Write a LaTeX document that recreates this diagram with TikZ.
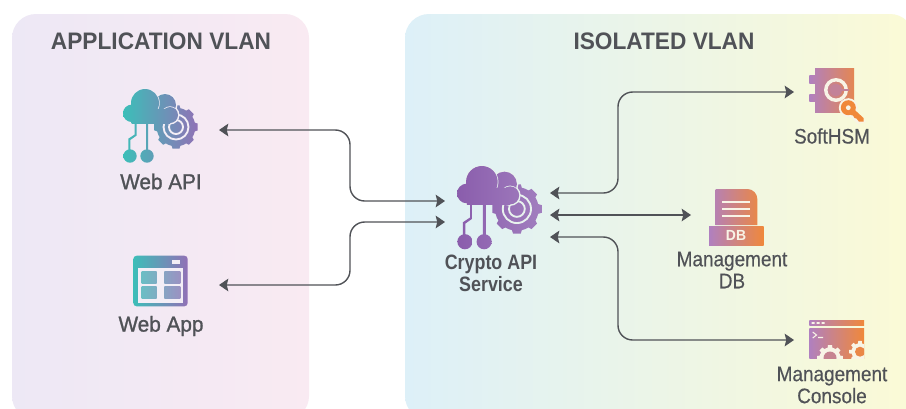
\documentclass[tikz,border=0pt]{standalone}
\usepackage{fontspec}
\setmainfont{Liberation Sans}
\newfontfamily\headf[FakeStretch=0.95]{Liberation Sans}
\newfontfamily\medf[FakeBold=1.2,FakeStretch=0.96]{Liberation Sans}
\newfontfamily\condf[FakeBold=0.4,FakeStretch=0.9]{Liberation Sans}
\newfontfamily\condb[FakeStretch=0.86]{Liberation Sans}
\usetikzlibrary{arrows.meta,calc}
\definecolor{txt}{HTML}{505257}
\definecolor{lineC}{HTML}{505257}
\definecolor{leftA}{HTML}{EDE8F5}
\definecolor{leftB}{HTML}{F9EAF2}
\definecolor{rightA}{HTML}{DDF0F8}
\definecolor{rightM}{HTML}{EDF4E8}
\definecolor{rightB}{HTML}{FBFAD6}
\definecolor{teal}{HTML}{3CBEB8}
\definecolor{purp}{HTML}{9270B6}
\definecolor{cryA}{HTML}{8A5DAC}
\definecolor{cryB}{HTML}{A27FBF}
\definecolor{softA}{HTML}{B080C0}
\definecolor{softB}{HTML}{F0883A}
\definecolor{lightA}{HTML}{F3EEF6}
\definecolor{lightB}{HTML}{E8F2EE}
\definecolor{lightC}{HTML}{F8F4E6}
\tikzset{
  panel title/.style={font=\headf\bfseries\fontsize{17.9}{19}\selectfont,text=txt,anchor=center,inner sep=0},
  lbl/.style={font=\condf\fontsize{15.8}{16.5}\selectfont,text=txt,align=center,inner sep=0},
  lblm/.style={font=\medf\fontsize{16.2}{17}\selectfont,text=txt,align=center,inner sep=0},
  lblb/.style={font=\condb\bfseries\fontsize{15.6}{16.5}\selectfont,text=txt,align=center,inner sep=0},
  anchorbox/.style={inner sep=0,outer sep=0,draw=none,fill=none},
  conn/.style={draw=lineC,line width=1.05pt,rounded corners=11pt,{Stealth[length=7pt,width=9.5pt,inset=1.2pt]}-{Stealth[length=7pt,width=9.5pt,inset=1.2pt]}},
}
\newcommand\gpiece[1]{\begin{scope}\clip #1;\shade[left color=\gA,right color=\gB] \gbox;\end{scope}}
\newcommand\gearpath[4]{({#1+#4*cos(-22.5)},{#2+#4*sin(-22.5)})
  \foreach \a in {0,45,...,315}{ -- ({#1+#4*cos(\a-13)},{#2+#4*sin(\a-13)}) -- ({#1+#3*cos(\a-9)},{#2+#3*sin(\a-9)}) -- ({#1+#3*cos(\a+9)},{#2+#3*sin(\a+9)}) -- ({#1+#4*cos(\a+13)},{#2+#4*sin(\a+13)}) -- ({#1+#4*cos(\a+22.5)},{#2+#4*sin(\a+22.5)})} -- cycle}
\newcommand\cloudicon[6]{%
\begin{scope}[shift={(#1,#2)},scale=#3]
\def\gA{#4}\def\gB{#5}\def\gbox{(0,0) rectangle (76,76)}
\gpiece{\gearpath{53}{38}{22}{19.3}}
\draw[#6,line width=1.4pt] (53,38) circle (12.5);
\draw[#6,line width=1.4pt] (53,38) circle (7);
\path[draw=#6,line width=2.2pt] (42,16) circle (11);
\path[draw=#6,line width=2.2pt] (47,26) circle (8);
\path[draw=#6,line width=2.2pt] (8.7,24) rectangle (47,33);
\gpiece{(42,16) circle (11)}
\path[draw=#6,line width=1.1pt] (22,14) circle (14);
\path[draw=#6,line width=1.1pt] (47,26) circle (8);
\gpiece{(47,26) circle (8)}
\gpiece{(22,14) circle (14)}
\gpiece{(8.7,24.3) circle (8.7)}
\gpiece{(8.7,20) rectangle (47,34)}
\gpiece{(7,67) circle (6.7)}
\gpiece{(24,67) circle (6.7)}
\gpiece{(23,32) rectangle (25,62)}
\gpiece{(11.7,32) -- (13.7,32) -- (13.7,46.5) -- (7.3,51) -- (7.3,61) -- (5.3,61) -- (5.3,49.7) -- (11.7,45.5) -- cycle}
\end{scope}}
\begin{document}
\begin{tikzpicture}[x=0.75pt,y=-0.75pt]
\clip (0,0) rectangle (906,408);
\fill[white] (0,0) rectangle (906,408);
\shade[left color=leftA,right color=leftB,rounded corners=18pt] (12,14) rectangle (309,420);
\shade[left color=rightA,middle color=rightM,right color=rightB,rounded corners=18pt] (405,14) rectangle (914,420);
\node[panel title] at (161,41.5) {APPLICATION VLAN};
\node[panel title] at (664,41.5) {ISOLATED VLAN};
\node[anchorbox,minimum width=87pt,minimum height=45pt] (webapi) at (161,130) {};
\node[anchorbox,minimum width=87pt,minimum height=45pt] (webapp) at (161,285) {};
\node[anchorbox,minimum width=78.75pt,minimum height=45pt] (crypto) at (497.5,215) {};
\node[anchorbox,minimum width=57pt,minimum height=30pt] (softhsm) at (832,92) {};
\node[anchorbox,minimum width=66pt,minimum height=30pt] (mgmtdb) at (735,215) {};
\node[anchorbox,minimum width=57pt,minimum height=30pt] (mgmtcon) at (832,340) {};
\coordinate (busL) at (350,165);
\coordinate (busR) at (618,215);
\coordinate (cwA) at ([yshift=10.5pt]crypto.west);
\coordinate (cwB) at ([yshift=-5.25pt]crypto.west);
\coordinate (ceA) at ([yshift=16.5pt]crypto.east);
\coordinate (ceB) at ([yshift=-16.5pt]crypto.east);
\draw[conn] (webapi.east) -| (busL |- cwA) -- (cwA);
\draw[conn] (webapp.east) -| (busL |- cwB) -- (cwB);
\draw[conn] (ceA) -| (busR |- softhsm.west) -- (softhsm.west);
\draw[conn] (crypto.east) -- (mgmtdb.west);
\draw[conn] (ceB) -| (busR |- mgmtcon.west) -- (mgmtcon.west);
\cloudicon{123}{89}{1}{teal}{purp}{lightA}
\cloudicon{457}{166}{1.13}{cryA}{cryB}{lightB}
\def\gA{teal}\def\gB{purp}\def\gbox{(133,255) rectangle (188,307)}
\gpiece{[rounded corners=2.5pt] (133.3,255.7) rectangle (187.7,306.3)}
\fill[lightA] (137.7,267.7) rectangle (183.3,302.7);
\fill[lightA] (172.3,260) rectangle (180,263.7);
\begin{scope}[opacity=0.8]
\gpiece{(141.7,271.7) rectangle (156.7,283.3)}
\gpiece{(164.3,271.7) rectangle (180.3,283.3)}
\gpiece{(141.7,286.7) rectangle (156.7,298.7)}
\gpiece{(164.3,286.7) rectangle (180.3,298.7)}
\end{scope}
\def\gA{softA}\def\gB{softB}\def\gbox{(809,68) rectangle (864,122)}
\gpiece{(815,68.3) rectangle (854,112.3)}
\gpiece{(809.3,75.7) rectangle (815.5,83.3)}
\gpiece{(809.3,94.3) rectangle (815.5,101.7)}
\fill[lightC,even odd rule] (836,90) circle (12) (836,90) circle (8.5);
\fill[softA!70!softB] (836,90) circle (6);
\fill[softA!70!softB] (836,88.9) rectangle (848.5,91.1);
\fill[lightC] (848.3,107.7) circle (9.5);
\fill[lightC] (851,109) -- (866,122) -- (858,124) -- (846,113) -- cycle;
\fill[softB] (848.3,107.7) circle (7.5);
\fill[softB] (851,106.5) -- (863.5,118) -- (863.5,121.7) -- (859,121.7) -- (856.5,118.5) -- (854.5,118) -- (853,115.5) -- (851,115) -- (846,110) -- cycle;
\fill[lightC] (848.3,107.7) circle (2.4);
\def\gA{softA}\def\gB{softB}\def\gbox{(709,189) rectangle (764,246)}
\gpiece{(715.7,225) -- (715.7,189) -- (747.3,189) arc[start angle=-90,end angle=0,radius=10] -- (757.3,225) -- cycle}
\gpiece{(709,226) rectangle (763.7,245.3)}
\fill[lightC] (722.3,201.2) rectangle (750.3,202.8);
\fill[lightC] (722.3,208.2) rectangle (750.3,209.8);
\fill[lightC] (722.3,214.9) rectangle (750.3,216.5);
\node[font=\headf\bfseries\fontsize{11}{12}\selectfont,text=lightC,inner sep=0] (dbmark) at (736,235.7) {DB};
\def\gA{softA}\def\gB{softB}\def\gbox{(809,320) rectangle (864,358)}
\gpiece{(809.3,320) rectangle (864,325.7)}
\gpiece{(809.3,328.3) rectangle (864,358)}
\fill[lightC] (811.5,322) rectangle (814.5,323.8) (816.5,322) rectangle (819.5,323.8) (821.5,322) rectangle (824.5,323.8);
\draw[lightC,line width=0.8pt] (812.7,332) -- (816.5,335) -- (812.7,338) (818,337.5) -- (823,337.5);
\begin{scope}
\clip (809.3,328.3) rectangle (864,358);
\fill[lightC] \gearpath{830}{358}{13}{10.5};
\fill[softA!65!softB] (830,358) circle (6.5);
\fill[lightC] \gearpath{860}{351.7}{11}{8.5};
\fill[softB!90!softA] (860,351.7) circle (5);
\end{scope}
\node[lblm] (lwebapi) at (161,181.5) {Web API};
\node[lblm] (lwebapp) at (161,326) {Web App};
\node[lblb] (lcrypto) at (491,273) {Crypto API\\Service};
\node[lbl] (lsoft) at (832,136) {SoftHSM};
\node[lbl] (ldb) at (732,270) {Management\\DB};
\node[lbl] (lcon) at (832,385) {Management\\Console};
\end{tikzpicture}
\end{document}
